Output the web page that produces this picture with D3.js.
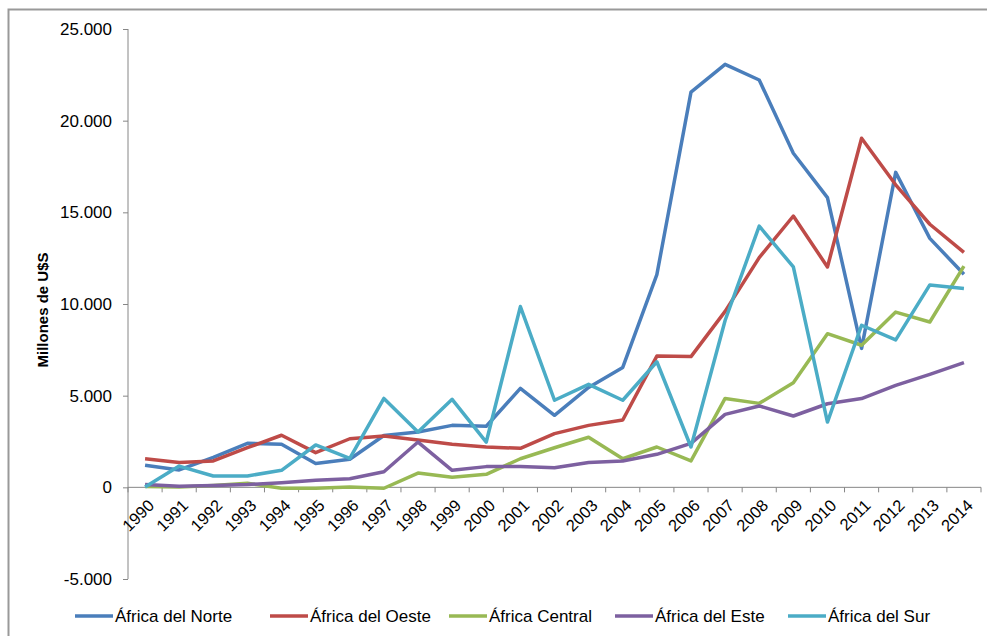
<!DOCTYPE html>
<html>
<head>
<meta charset="utf-8">
<script src="https://cdn.jsdelivr.net/npm/d3@7"></script>
<style>
body { margin: 0; background: #fff; }
svg { font-family: "Liberation Sans", Arial, sans-serif; }
.axis path, .axis line { stroke: #868686; }
.axis text { fill: #000; font-size: 17px; }
.series { fill: none; stroke-width: 3.5; stroke-linejoin: round; }
</style>
</head>
<body>
<div id="chart"></div>
<script>
var years = ["1990","1991","1992","1993","1994","1995","1996","1997","1998","1999","2000","2001","2002","2003","2004","2005","2006","2007","2008","2009","2010","2011","2012","2013","2014"];

var norte   = [1200, 950, 1640, 2400, 2350, 1300, 1530, 2830, 3020, 3380, 3330, 5400, 3930, 5450, 6540, 11600, 21560, 23070, 22220, 18220, 15800, 7580, 17180, 13580, 11620];
var oeste   = [1560, 1350, 1440, 2160, 2840, 1890, 2650, 2800, 2580, 2350, 2200, 2130, 2930, 3380, 3670, 7160, 7130, 9600, 12530, 14800, 12020, 19040, 16500, 14350, 12820];
var central = [50, 20, 100, 220, -50, -50, 20, -50, 780, 550, 710, 1560, 2160, 2730, 1560, 2200, 1440, 4850, 4580, 5710, 8380, 7750, 9560, 9020, 12070];
var este    = [160, 55, 100, 150, 250, 380, 470, 850, 2470, 930, 1130, 1130, 1070, 1350, 1440, 1800, 2400, 3980, 4440, 3890, 4560, 4840, 5560, 6160, 6800];
var sur     = [20, 1160, 620, 620, 930, 2310, 1580, 4850, 3020, 4800, 2470, 9860, 4750, 5620, 4750, 6850, 2200, 9100, 14250, 12020, 3560, 8840, 8040, 11040, 10840];

var seriesNames = ["África del Norte", "África del Oeste", "África Central", "África del Este", "África del Sur"];
var seriesColors = ["#4A7EBB", "#BE4B48", "#98B954", "#7D60A0", "#4BACC6"];
var yTicks = [-5000, 0, 5000, 10000, 15000, 20000, 25000];

var w = 987, h = 636;
var series = [norte, oeste, central, este, sur].map(function(vals, i) {
  return {name: seriesNames[i], color: seriesColors[i], values: vals};
});

var svg = d3.select("#chart").append("svg")
    .attr("width", w)
    .attr("height", h);

// outer frame
svg.append("rect")
    .attr("x", 8.5).attr("y", 9.5)
    .attr("width", w + 20).attr("height", h + 20)
    .style("fill", "none").style("stroke", "#999").style("stroke-width", 2);

var x = d3.scaleBand().domain(years).range([128, 981]).padding(0);
var y = d3.scaleLinear().domain([-5000, 25000]).range([579, 29]);

var loc = d3.formatLocale({decimal: ",", thousands: ".", grouping: [3], currency: ["", ""], minus: "-"});
var fmt = loc.format(",");

var yAxis = svg.append("g")
    .attr("class", "axis")
    .attr("transform", "translate(128,0)")
    .call(d3.axisLeft(y).tickValues(yTicks).tickFormat(fmt).tickSize(5).tickPadding(11));
yAxis.select(".domain").attr("d", "M0," + y(-5000) + "V" + y(25000));

// x axis at zero
var xg = svg.append("g").attr("class", "axis");
xg.append("line")
    .attr("x1", x.range()[0]).attr("x2", x.range()[1])
    .attr("y1", y(0)).attr("y2", y(0));
xg.selectAll("line.tick")
    .data(years.concat(["end"]))
  .enter().append("line")
    .attr("class", "tick")
    .attr("x1", function(d) { return d === "end" ? x.range()[1] : x(d); })
    .attr("x2", function(d) { return d === "end" ? x.range()[1] : x(d); })
    .attr("y1", y(0)).attr("y2", y(0) + 5);
xg.selectAll("text")
    .data(years)
  .enter().append("text")
    .attr("text-anchor", "end")
    .style("font-size", "16.5px")
    .attr("transform", function(d) {
      return "translate(" + (x(d) + x.bandwidth() / 2 + 6) + "," + (y(0) + 15) + ") rotate(-45)";
    })
    .attr("dy", "0.35em")
    .text(function(d) { return d; });

// y title
svg.append("text")
    .attr("transform", "translate(48," + 310 + ") rotate(-90)")
    .attr("text-anchor", "middle")
    .style("font-size", "15px")
    .style("font-weight", "bold")
    .text("Millones de U$S");

var line = d3.line()
    .x(function(d, i) { return x(years[i]) + x.bandwidth() / 2; })
    .y(function(d) { return y(d); });

svg.selectAll("path.series")
    .data(series)
  .enter().append("path")
    .attr("class", "series")
    .style("stroke", function(d) { return d.color; })
    .attr("d", function(d) { return line(d.values); });

// legend
var legendX = [75, 270, 449, 615, 788];
var legend = svg.selectAll("g.legend")
    .data(series)
  .enter().append("g")
    .attr("class", "legend")
    .attr("transform", function(d, i) { return "translate(" + legendX[i] + ",616)"; });
legend.append("line")
    .attr("x1", 0).attr("x2", 38)
    .attr("y1", 0).attr("y2", 0)
    .style("stroke", function(d) { return d.color; })
    .style("stroke-width", 3.5);
legend.append("text")
    .attr("x", 40)
    .attr("dy", "0.35em")
    .style("font-size", "17px")
    .text(function(d) { return d.name; });
</script>
</body>
</html>
